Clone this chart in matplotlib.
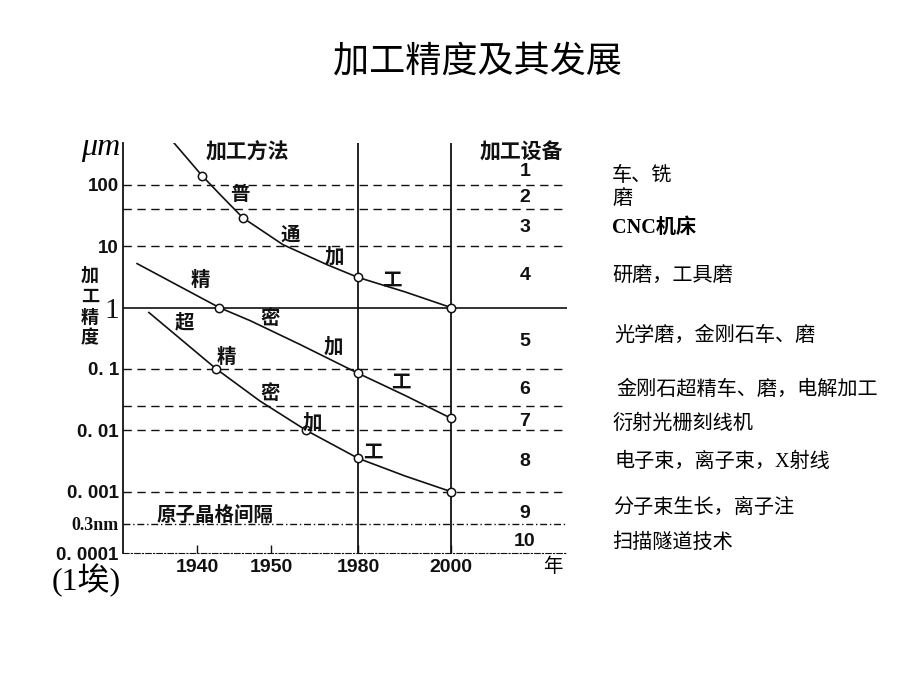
import numpy as np
import matplotlib.pyplot as plt

plt.rcParams['font.family'] = ['Noto Sans CJK SC', 'DejaVu Sans']

# 普通加工
y1_year = [1936.9, 1940.7, 1943.4, 1946.2, 1954.1, 1969.3, 1980, 1990.1, 2000]
y1_val = [480, 140, 64, 29, 10.6, 5.0, 3.1, 1.8, 1.0]
y1_mark = [1, 3, 6, 8]
# 精密加工
y2_year = [1931.9, 1943.0, 1947.2, 1960, 1980, 1990.1, 2000]
y2_val = [5.2, 1.0, 0.61, 0.25, 0.085, 0.037, 0.0157]
y2_mark = [1, 4, 6]
# 超精密加工
y3_year = [1933.5, 1942.6, 1948.5, 1962.1, 1980, 1990.1, 2000]
y3_val = [0.83, 0.1, 0.03, 0.01, 0.0035, 0.0018, 0.001]
y3_mark = [1, 3, 4, 6]

dash_levels = [100, 40, 10, 0.1, 0.025, 0.01, 0.001]
ytick_vals = [100, 10, 1, 0.1, 0.01, 0.001, 0.0003, 0.0001]
ytick_labels = ['100', '10', '1', '0. 1', '0. 01', '0. 001', '0.3nm', '0. 0001']
xtick_vals = [1940, 1950, 1980, 2000]
xtick_labels = ['1940', '1950', '1980', '2000']

# 图中刻度间距不均匀，按图上位置分段
knot_year = [1930, 1940, 1950, 1980, 2000, 2025]
knot_pos = [123, 197, 271, 358, 451, 567]

equip_no = ['1', '2', '3', '4', '5', '6', '7', '8', '9', '10']
equip_y = [172, 197, 228, 275, 341, 389, 422, 461, 513, 541]
equip_txt = ['车、铣', '磨', 'CNC机床', '研磨，工具磨', '光学磨，金刚石车、磨',
             '金刚石超精车、磨，电解加工', '衍射光栅刻线机', '电子束，离子束，X射线',
             '分子束生长，离子注', '扫描隧道技术']
equip_tx = [612, 612, 612, 612, 614, 616, 612, 614, 613, 612]
equip_ty = [176, 199, 228, 276, 336, 390, 424, 462, 508, 543]

W, H = 920, 690
fig = plt.figure(figsize=(9.2, 6.9), dpi=100)
ax = fig.add_axes([123 / W, 1 - 553 / H, (567 - 123) / W, (553 - 143) / H])

fwd = lambda x: np.interp(x, knot_year, knot_pos)
inv = lambda p: np.interp(p, knot_pos, knot_year)
ax.set_xscale('function', functions=(fwd, inv))
ax.set_yscale('log')
ax.set_xlim(1930, 2025)
ax.set_ylim(1e-4, 480)

lc = '#111111'
for lv in dash_levels:
    ax.axhline(lv, color=lc, lw=1.0, ls=(0, (6, 4)))
ax.axhline(1, color=lc, lw=1.2)
ax.axhline(0.0003, color=lc, lw=1.0, ls=(0, (5, 2, 1, 2)))
for xv in [1980, 2000]:
    ax.axvline(xv, color=lc, lw=1.3)

for xs, ys, mk in [(y1_year, y1_val, y1_mark), (y2_year, y2_val, y2_mark),
                   (y3_year, y3_val, y3_mark)]:
    ax.plot(xs, ys, color=lc, lw=1.2, marker='o', markevery=mk, ms=6,
            mfc='white', mec=lc, mew=1.1, zorder=3)

for s in ['top', 'right']:
    ax.spines[s].set_visible(False)
ax.spines['left'].set_color(lc)
ax.spines['left'].set_linewidth(1.3)
ax.spines['bottom'].set_color(lc)
ax.spines['bottom'].set_linestyle((0, (5, 2, 1, 2)))

ax.set_xticks(xtick_vals, xtick_labels)
ax.minorticks_off()
ax.tick_params(axis='x', direction='in', length=6, width=1, pad=4, colors=lc,
               labelsize=14)
ax.set_yticks(ytick_vals, ytick_labels)
ax.minorticks_off()
ax.tick_params(axis='y', length=0, pad=3, labelsize=13.5, colors=lc)
for t in ax.get_xticklabels() + ax.get_yticklabels():
    t.set_fontfamily('Liberation Sans')
    t.set_fontweight('bold')
ylab = ax.get_yticklabels()
ylab[2].set_fontfamily('Liberation Serif')
ylab[2].set_fontweight('normal')
ylab[2].set_fontsize(21)
ylab[6].set_fontfamily('Liberation Serif')
ylab[6].set_fontsize(13)


def ftext(x, y, s, **kw):
    fig.text(x / W, 1 - y / H, s, **kw)


ctr = dict(ha='center', va='center')
ftext(478, 62, '加工精度及其发展', fontsize=26, **ctr)
ftext(101, 147, 'μm', family='Liberation Serif', style='italic', fontsize=23, **ctr)
# 竖排的“加工精度”
for i, ch in enumerate('加工精度'):
    ftext(90, 275 + i * 21, ch, fontweight='bold', fontsize=13, color=lc, **ctr)
ftext(86, 580, '(1埃)', family=['Liberation Serif', 'Noto Sans CJK SC'], fontsize=23, **ctr)
ftext(553, 566, '年', fontsize=14, **ctr)

bold = dict(fontweight='bold', fontsize=14, color=lc)
ftext(247, 152, '加工方法', fontweight='bold', fontsize=15, color=lc, **ctr)
ftext(521, 152, '加工设备', fontweight='bold', fontsize=15, color=lc, **ctr)
for (x, y, s) in [(240, 195, '普'), (290, 235, '通'), (334, 257, '加'), (392, 280, '工'),
                  (200, 280, '精'), (270, 318, '密'), (333, 347, '加'), (401, 382, '工'),
                  (184, 323, '超'), (226, 357, '精'), (270, 393, '密'), (312, 423, '加'),
                  (373, 452, '工')]:
    ftext(x, y, s, **bold, **ctr)
ftext(157, 515, '原子晶格间隔', ha='left', va='center', **bold)

for n, y in zip(equip_no, equip_y):
    ftext(525, y, n, family='Liberation Sans', **bold, **ctr)

for x, y, s in zip(equip_tx, equip_ty, equip_txt):
    if s.startswith('CNC'):
        ftext(x, y, s, family=['Liberation Serif', 'Noto Sans CJK SC'], fontsize=14.5,
              fontweight='bold', ha='left', va='center')
    else:
        ftext(x, y, s, family=['Liberation Serif', 'Noto Sans CJK SC'], fontsize=14.5,
              ha='left', va='center')

fig.savefig('out.png', dpi=100)
